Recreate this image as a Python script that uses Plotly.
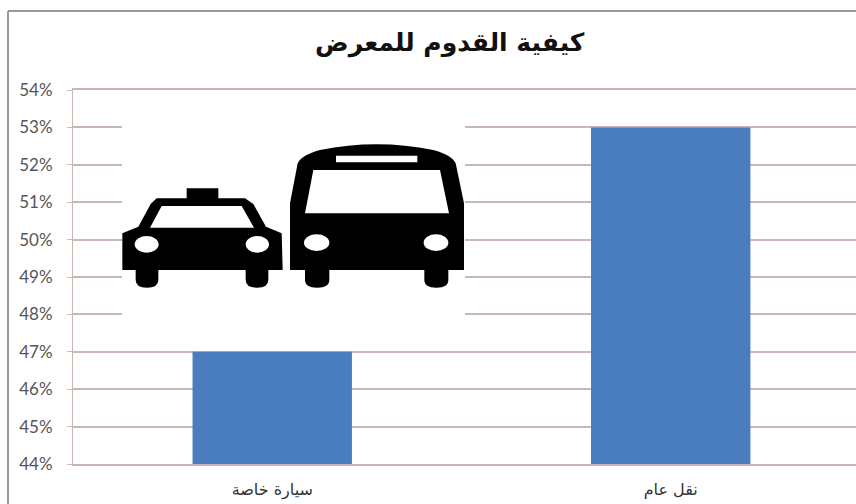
import plotly.graph_objects as go

categories = ["سيارة خاصة", "نقل عام"]
values = [47, 53]
tick_values = list(range(44, 55))
tick_labels = ["44%", "45%", "46%", "47%", "48%", "49%", "50%", "51%", "52%", "53%", "54%"]
title_text = "كيفية القدوم للمعرض"

W, H = 856, 504
L, T, B = 73, 90, 40
PW, PH = W - L, H - T - B
px = lambda x: (x - L) / PW
py = lambda y: (H - B - y) / PH
zx = lambda v: px(v / 3)
zy = lambda v: py(v / 3)


def poly(pts):
    return "M" + " L".join(f"{zx(a):.5f},{zy(b):.5f}" for a, b in pts) + " Z"


def rect(x0, y0, x1, y1, color="black"):
    return dict(type="rect", xref="paper", yref="paper", x0=px(x0), x1=px(x1), y0=py(y0), y1=py(y1),
                fillcolor=color, line=dict(width=0), layer="above")


def ell(cx, cy, rx, ry):
    return dict(type="circle", xref="paper", yref="paper", x0=zx(cx - rx), x1=zx(cx + rx), y0=zy(cy - ry), y1=zy(cy + ry),
                fillcolor="white", line=dict(width=0), layer="above")


def path(d, color="black"):
    return dict(type="path", xref="paper", yref="paper", path=d, fillcolor=color, line=dict(width=0), layer="above")


def wheel(x0, x1):
    xm = (x0 + x1) / 2
    d = (f"M{zx(x0):.5f},{zy(800):.5f} L{zx(x1):.5f},{zy(800):.5f} L{zx(x1):.5f},{zy(840):.5f} "
         f"Q{zx(x1):.5f},{zy(863):.5f} {zx(xm):.5f},{zy(863):.5f} Q{zx(x0):.5f},{zy(863):.5f} {zx(x0):.5f},{zy(840):.5f} Z")
    return path(d)


car = poly([(367, 700), (415, 680), (452, 612), (470, 595), (560, 595), (560, 565), (655, 565), (655, 595), (735, 595),
            (760, 612), (798, 680), (845, 700), (848, 810), (367, 810)]) + " " + \
      poly([(485, 618), (725, 618), (762, 683), (450, 683)])
bus = (f"M{zx(870):.5f},{zy(810):.5f} L{zx(870):.5f},{zy(610):.5f} L{zx(893):.5f},{zy(490):.5f} "
       f"Q{zx(905):.5f},{zy(465):.5f} {zx(960):.5f},{zy(450):.5f} Q{zx(1130):.5f},{zy(415):.5f} {zx(1300):.5f},{zy(450):.5f} "
       f"Q{zx(1355):.5f},{zy(465):.5f} {zx(1367):.5f},{zy(490):.5f} L{zx(1392):.5f},{zy(610):.5f} L{zx(1392):.5f},{zy(810):.5f} Z ") + \
      poly([(940, 510), (1320, 510), (1347, 640), (915, 640)]) + " " + \
      poly([(1008, 467), (1252, 467), (1252, 487), (1008, 487)])

shapes = [
    # white panel that interrupts the gridlines behind the icons
    rect(122, 108, 465, 334, "white"),
    path(car), path(bus),
    wheel(407, 475), wheel(737, 805), wheel(915, 988), wheel(1273, 1345),
    ell(440, 733, 36, 25), ell(772, 733, 35, 25), ell(950, 728, 38, 25), ell(1308, 728, 37, 25),
    # chart frame, running off the page at right and bottom
    dict(type="line", xref="paper", yref="paper", x0=px(8), x1=px(8), y0=py(11), y1=py(504), line=dict(color="#7a7a7a", width=1.5), layer="above"),
    dict(type="line", xref="paper", yref="paper", x0=px(8), x1=px(856), y0=py(11), y1=py(11), line=dict(color="#7a7a7a", width=1.5), layer="above"),
]

fig = go.Figure(go.Bar(x=categories, y=values, width=0.4, marker=dict(color="#4a7dbd", line=dict(width=0))))
fig.update_layout(
    width=W, height=H, autosize=False,
    margin=dict(l=L, r=0, t=T, b=B),
    paper_bgcolor="white", plot_bgcolor="white",
    showlegend=False, shapes=shapes,
    font=dict(family="DejaVu Sans"),
    annotations=[dict(text=f"<b>{title_text}</b>", xref="paper", yref="paper", x=px(450), y=py(43),
                      xanchor="center", yanchor="middle",
                      showarrow=False, font=dict(family="DejaVu Sans", size=25, color="#111111"))],
)
fig.update_xaxes(range=[-0.5, 1.465], showgrid=False, ticks="", showline=True, mirror=True, linecolor="#c9b8b2", linewidth=1.5,
                 zeroline=False, tickfont=dict(family="DejaVu Sans", size=16, color="#333333"), ticklabelstandoff=10)
fig.update_yaxes(range=[44, 54], tickmode="array", tickvals=tick_values, ticktext=tick_labels, showgrid=True,
                 gridcolor="#c9b8b2", gridwidth=1.5,
                 showline=True, linecolor="#c9b8b2", linewidth=1, ticks="outside", ticklen=5, tickcolor="#c9b8b2",
                 zeroline=False, tickfont=dict(family="Lato", size=17, color="#555555"), ticklabelstandoff=11)
fig.write_html("out.html", post_script="document.body.style.margin='0';", config={"displayModeBar": False})
